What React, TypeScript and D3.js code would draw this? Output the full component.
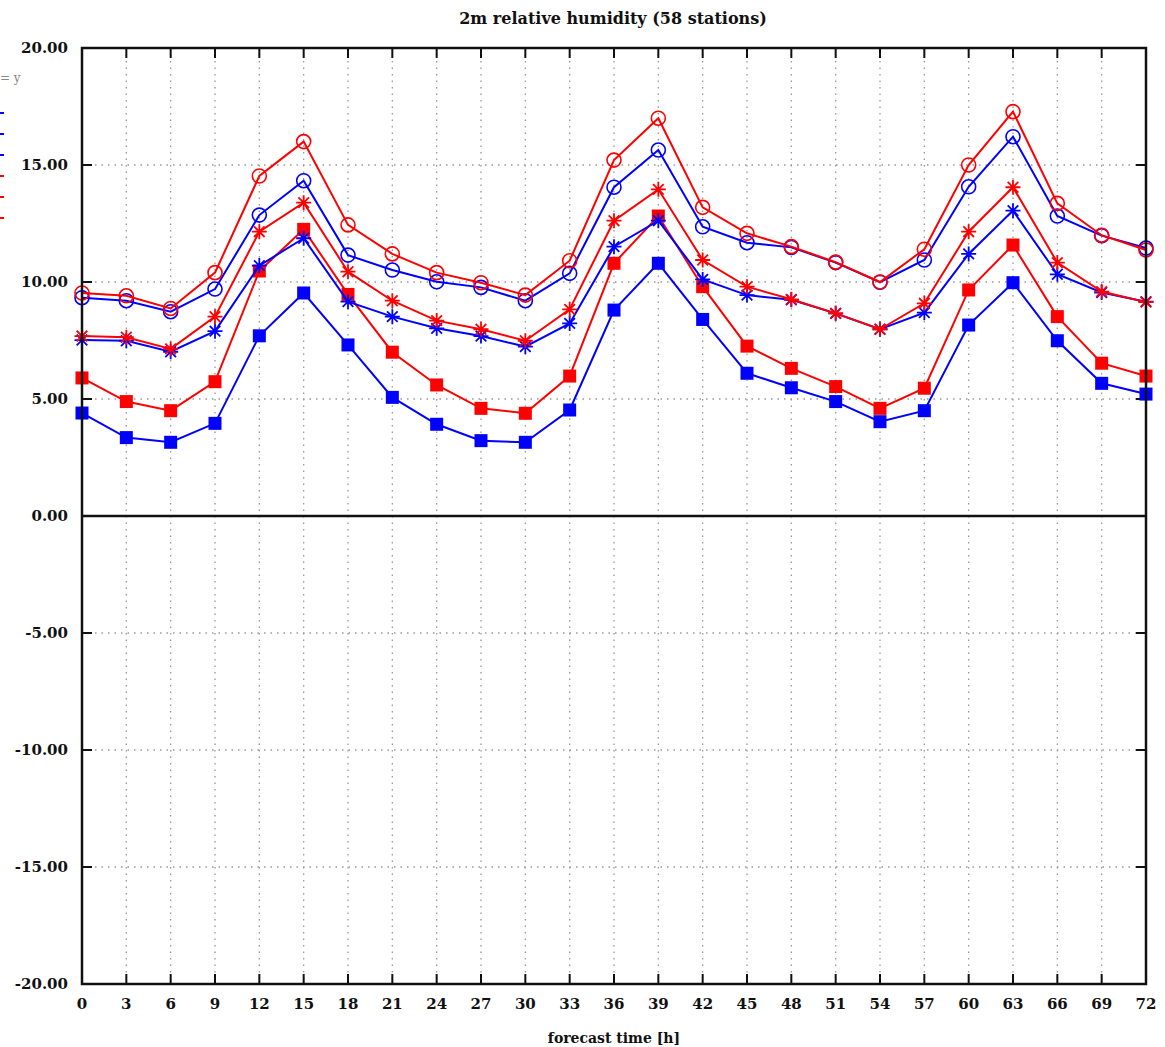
import React, { useEffect, useRef } from 'react';
import * as d3 from 'd3';

const hours = [0, 3, 6, 9, 12, 15, 18, 21, 24, 27, 30, 33, 36, 39, 42, 45, 48, 51, 54, 57, 60, 63, 66, 69, 72];

const blueCircle = [9.33, 9.2, 8.73, 9.7, 12.86, 14.33, 11.15, 10.51, 10.01, 9.77, 9.2, 10.37, 14.05, 15.64, 12.36, 11.68, 11.48, 10.83, 9.99, 10.94, 14.07, 16.21, 12.82, 11.98, 11.45];
const redCircle = [9.53, 9.41, 8.87, 10.4, 14.53, 16.0, 12.44, 11.2, 10.4, 9.97, 9.44, 10.91, 15.21, 17.0, 13.19, 12.08, 11.51, 10.85, 10.0, 11.4, 15.0, 17.28, 13.36, 12.0, 11.37];
const blueStar = [7.52, 7.49, 7.02, 7.9, 10.7, 11.87, 9.16, 8.52, 8.02, 7.69, 7.24, 8.23, 11.51, 12.62, 10.11, 9.44, 9.24, 8.66, 7.98, 8.69, 11.2, 13.05, 10.33, 9.55, 9.16];
const redStar = [7.69, 7.64, 7.14, 8.52, 12.15, 13.39, 10.44, 9.2, 8.35, 7.98, 7.49, 8.83, 12.62, 13.96, 10.94, 9.8, 9.26, 8.66, 7.98, 9.09, 12.15, 14.05, 10.83, 9.59, 9.14];
const blueSquare = [4.4, 3.35, 3.15, 3.96, 7.7, 9.53, 7.31, 5.07, 3.92, 3.22, 3.15, 4.53, 8.8, 10.8, 8.4, 6.1, 5.48, 4.89, 4.03, 4.5, 8.16, 9.97, 7.49, 5.67, 5.21];
const redSquare = [5.9, 4.89, 4.5, 5.74, 10.47, 12.25, 9.47, 7.0, 5.6, 4.6, 4.39, 5.98, 10.8, 12.82, 9.8, 7.26, 6.31, 5.53, 4.6, 5.46, 9.66, 11.58, 8.52, 6.53, 5.98];

const yTicks = [-20, -15, -10, -5, 0, 5, 10, 15, 20];

const series = [
  { values: blueSquare, color: '#0000ff', marker: 'square' },
  { values: redSquare, color: '#ff0000', marker: 'square' },
  { values: blueStar, color: '#0000ff', marker: 'star' },
  { values: redStar, color: '#ff0000', marker: 'star' },
  { values: blueCircle, color: '#0000ff', marker: 'circle' },
  { values: redCircle, color: '#ff0000', marker: 'circle' },
];

const W = 1165;
const H = 1047;
const margin = { left: 82, right: 19, top: 48, bottom: 63 };
const font = '"DejaVu Serif", "Liberation Serif", serif';

const Chart = () => {
  const ref = useRef<SVGSVGElement>(null);

  useEffect(() => {
    const svg = d3.select(ref.current);
    svg.selectAll('*').remove();

    const x = d3.scaleLinear().domain([0, 72]).range([margin.left, W - margin.right]);
    const y = d3.scaleLinear().domain([-20, 20]).range([H - margin.bottom, margin.top]);
    const x0 = x(0), x1 = x(72), y0 = y(20), y1 = y(-20);

    // dotted grid
    const grid = svg.append('g').attr('stroke', '#999').attr('stroke-width', 1.3).attr('stroke-dasharray', '1.5,5');
    hours.slice(1, -1).forEach((h) => {
      grid.append('line').attr('x1', x(h)).attr('x2', x(h)).attr('y1', y0).attr('y2', y1);
    });
    yTicks.slice(1, -1).forEach((v) => {
      grid.append('line').attr('x1', x0).attr('x2', x1).attr('y1', y(v)).attr('y2', y(v));
    });

    // inner ticks
    const ticks = svg.append('g').attr('stroke', '#111').attr('stroke-width', 2);
    hours.slice(1, -1).forEach((h) => {
      ticks.append('line').attr('x1', x(h)).attr('x2', x(h)).attr('y1', y1).attr('y2', y1 - 10);
      ticks.append('line').attr('x1', x(h)).attr('x2', x(h)).attr('y1', y0).attr('y2', y0 + 10);
    });
    yTicks.slice(1, -1).forEach((v) => {
      ticks.append('line').attr('x1', x0).attr('x2', x0 + 10).attr('y1', y(v)).attr('y2', y(v));
      ticks.append('line').attr('x1', x1).attr('x2', x1 - 10).attr('y1', y(v)).attr('y2', y(v));
    });

    // zero line
    svg.append('line').attr('x1', x0).attr('x2', x1).attr('y1', y(0)).attr('y2', y(0))
      .attr('stroke', '#111').attr('stroke-width', 2.5);

    const line = d3.line<number>().x((_, i) => x(hours[i])).y((d) => y(d));

    series.forEach((s) => {
      const g = svg.append('g');
      g.append('path').attr('d', line(s.values)).attr('fill', 'none').attr('stroke', s.color).attr('stroke-width', 2);
      s.values.forEach((v, i) => {
        const cx = x(hours[i]);
        const cy = y(v);
        if (s.marker === 'square') {
          g.append('rect').attr('x', cx - 6.5).attr('y', cy - 6.5).attr('width', 13).attr('height', 13).attr('fill', s.color);
        } else if (s.marker === 'circle') {
          g.append('circle').attr('cx', cx).attr('cy', cy).attr('r', 7).attr('fill', 'none')
            .attr('stroke', s.color).attr('stroke-width', 1.6);
        } else {
          // asterisk: four crossing strokes
          const r = 7.5;
          const d = [0, 45, 90, 135].map((a) => {
            const rad = (a * Math.PI) / 180;
            const dx = Math.cos(rad) * r;
            const dy = Math.sin(rad) * r;
            return `M${cx - dx},${cy - dy}L${cx + dx},${cy + dy}`;
          }).join('');
          g.append('path').attr('d', d).attr('stroke', s.color).attr('stroke-width', 1.8);
        }
      });
    });

    // frame
    svg.append('rect').attr('x', x0).attr('y', y0).attr('width', x1 - x0).attr('height', y1 - y0)
      .attr('fill', 'none').attr('stroke', '#111').attr('stroke-width', 2.5);

    // tick labels
    svg.append('g').selectAll('text').data(yTicks).enter().append('text')
      .attr('x', 68).attr('y', (d) => y(d) + 5).attr('text-anchor', 'end')
      .attr('font-family', font).attr('font-size', 15).attr('font-weight', 'bold').attr('fill', '#111')
      .text((d) => d.toFixed(2));
    svg.append('g').selectAll('text').data(hours).enter().append('text')
      .attr('x', (d) => x(d)).attr('y', y1 + 25).attr('text-anchor', 'middle')
      .attr('font-family', font).attr('font-size', 15).attr('font-weight', 'bold').attr('fill', '#111')
      .text((d) => String(d));

    // titles
    svg.append('text').attr('x', 613).attr('y', 24).attr('text-anchor', 'middle')
      .attr('font-family', font).attr('font-size', 16).attr('font-weight', 'bold').attr('fill', '#111')
      .text('2m relative humidity (58 stations)');
    svg.append('text').attr('x', 614).attr('y', 1043).attr('text-anchor', 'middle')
      .attr('font-family', font).attr('font-size', 14).attr('font-weight', 'bold').attr('fill', '#111')
      .text('forecast time [h]');

    // legend remnants at the left edge
    svg.append('text').attr('x', 0).attr('y', 82).attr('font-family', font).attr('font-size', 12)
      .attr('fill', '#888').text('= y');
    series.slice().sort((a, b) => (a.color < b.color ? -1 : 1)).forEach((s, i) => {
      svg.append('line').attr('x1', 0).attr('x2', 4).attr('y1', 113 + i * 21).attr('y2', 113 + i * 21)
        .attr('stroke', s.color).attr('stroke-width', 2);
    });
  }, []);

  return <svg ref={ref} width={W} height={H} style={{ display: 'block' }} />;
};

export default function App() {
  return (
    <div style={{ position: 'absolute', left: 0, top: 0, background: '#fff' }}>
      <Chart />
    </div>
  );
}
